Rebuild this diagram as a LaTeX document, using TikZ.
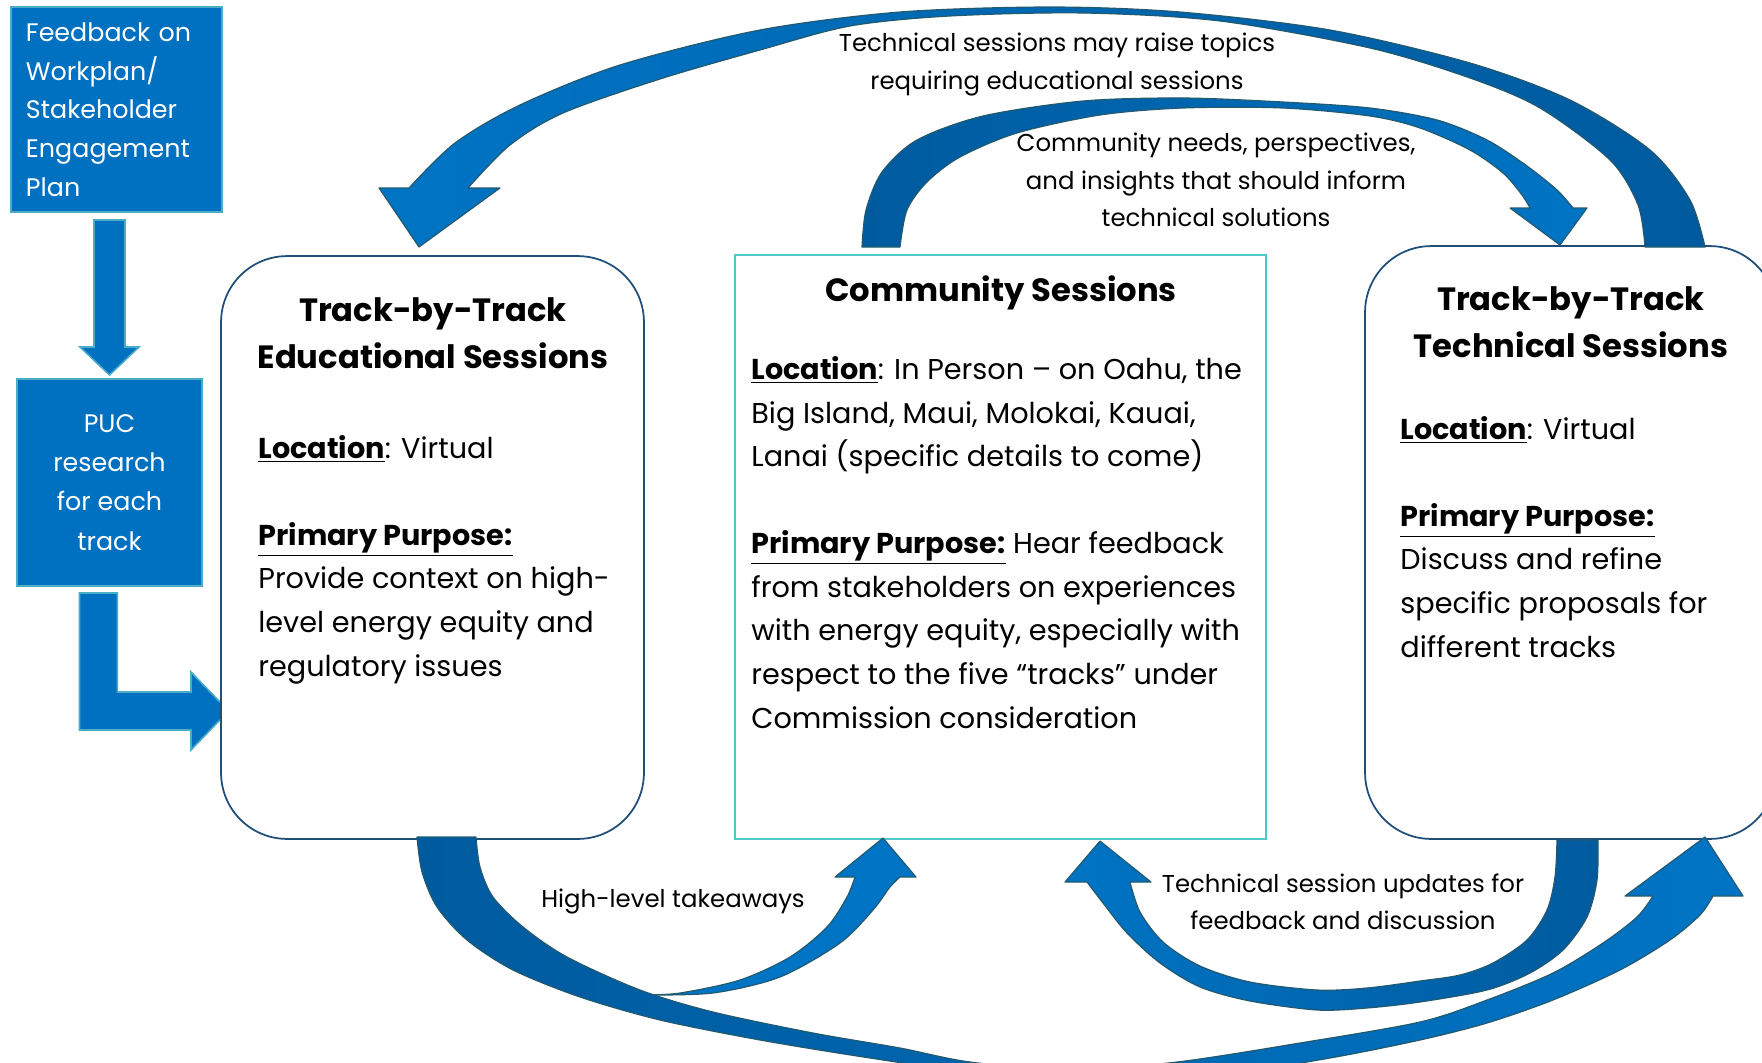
\documentclass[tikz,border=0pt]{standalone}
\usepackage{fontspec}
\setmainfont{Poppins}

\definecolor{boxblue}{RGB}{0,112,192}
\definecolor{boxedge}{RGB}{75,172,198}
\definecolor{sessedge}{RGB}{31,78,121}
\definecolor{commedge}{RGB}{80,200,200}
\definecolor{arrowdark}{RGB}{0,90,158}
\definecolor{arrowlight}{RGB}{0,116,196}
\definecolor{arrowedge}{RGB}{35,90,110}

\newcommand{\hd}[1]{\underline{\textbf{#1}}}

\begin{document}
\begin{tikzpicture}[x=0.018cm, y=-0.018cm,
    bluebox/.style={draw=boxedge, fill=boxblue, line width=0.8pt, inner sep=0pt, text=white},
    sessbox/.style={draw=sessedge, fill=white, line width=0.9pt, rounded corners=1.19cm, inner sep=0pt},
    commbox/.style={draw=commedge, fill=white, line width=0.9pt, inner sep=0pt},
    titletext/.style={align=center, font=\fontsize{16.5}{24.3}\selectfont\bfseries, inner sep=0pt, anchor=north},
    bodytext/.style={align=left, font=\fontsize{14.7}{22.4}\selectfont, inner sep=0pt, anchor=north west},
    labeltext/.style={align=center, font=\fontsize{12.5}{19}\selectfont, inner sep=0pt, anchor=north},
    blockarrow/.style={draw=boxedge, fill=boxblue, line width=0.8pt, line join=miter},
    curvearrow/.style={draw=arrowedge, line width=0.6pt, line join=round}
  ]
  \useasboundingbox (0,0) rectangle (1762,1063);
  \clip (0,0) rectangle (1762,1063);

  % left column: inputs
  \node[bluebox, minimum width=3.798cm, minimum height=3.69cm, text width=3.26cm, align=left,
    font=\fontsize{13}{19.8}\selectfont] (feedback) at (116.5,109.5)
    {Feedback on\\ Workplan/\\ Stakeholder\\ Engagement\\ Plan};
  \node[bluebox, minimum width=3.33cm, minimum height=3.726cm, align=center,
    font=\fontsize{13}{20.1}\selectfont] (puc) at (109.5,482.5)
    {PUC\\ research\\ for each\\ track};

  \draw[blockarrow] (94,220) -- (125,220) -- (125,347) -- (139,347) -- (109.5,375)
    -- (80,347) -- (94,347) -- cycle;
  \draw[blockarrow] (79.5,593) -- (117.4,593) -- (117.4,692) -- (191,692) -- (191,672)
    -- (228.6,711) -- (191,750) -- (191,730) -- (79.5,730) -- cycle;

  % the three session boxes
  \node[sessbox, minimum width=7.614cm, minimum height=10.494cm] (edu) at (432.5,547.5) {};
  \node[commbox, minimum width=9.558cm, minimum height=10.512cm] (comm) at (1000.5,547) {};
  \node[sessbox, minimum width=7.398cm, minimum height=10.674cm] (tech) at (1570.5,542.5) {};

  \node[titletext] (edutitle) at (433,297) {Track-by-Track\\ Educational Sessions};
  \node[bodytext] (edubody) at (258,435) {\hd{Location}: Virtual\\[22pt]
    \hd{Primary Purpose:}\\
    Provide context on high-\\
    level energy equity and\\
    regulatory issues};

  \node[titletext] (commtitle) at (1001,275) {Community Sessions};
  \node[bodytext] (commbody) at (751,356) {\hd{Location}: In Person – on Oahu, the\\
    Big Island, Maui, Molokai, Kauai,\\
    Lanai (specific details to come)\\[22pt]
    \hd{Primary Purpose:} Hear feedback\\
    from stakeholders on experiences\\
    with energy equity, especially with\\
    respect to the five “tracks” under\\
    Commission consideration};

  \node[titletext] (techtitle) at (1571,286) {Track-by-Track\\ Technical Sessions};
  \node[bodytext] (techbody) at (1400,416) {\hd{Location}: Virtual\\[22pt]
    \hd{Primary Purpose:}\\
    Discuss and refine\\
    specific proposals for\\
    different tracks};

  % curved arrows over the top
  \draw[curvearrow, left color=arrowlight, right color=arrowdark]
    plot[smooth, tension=0.5] coordinates {(1705,247) (1690,200) (1650,150) (1570,100) (1470,63)
      (1330,30) (1180,12) (1050,7) (900,12) (760,30) (620,65) (520,105) (455,143) (409,188)}
    -- (379,188) -- (419,247) -- (500,188) -- (468,188)
    -- plot[smooth, tension=0.5] coordinates {(468,188) (510,145) (563,113) (660,79) (760,50)
      (850,26) (950,16) (1083,13) (1220,21) (1370,48) (1470,78) (1540,108) (1610,160)
      (1638,205) (1645,247)}
    -- cycle;
  \draw[curvearrow, left color=arrowdark, right color=arrowlight]
    plot[smooth, tension=0.5] coordinates {(862,247) (866,210) (882,172) (917,140) (983,116)
      (1083,101) (1183,98) (1283,102) (1370,108) (1437,120) (1487,140) (1527,166) (1557,190)
      (1573,208)}
    -- (1587,208) -- (1560,245) -- (1510,208) -- (1530,208)
    -- plot[smooth, tension=0.5] coordinates {(1530,208) (1522,195) (1503,173) (1470,150)
      (1420,128) (1370,116) (1283,108) (1183,108) (1100,115) (1017,133) (960,157) (927,182)
      (907,210) (900,247)}
    -- cycle;

  % curved arrows underneath
  \draw[curvearrow, fill=arrowlight]
    plot[smooth, tension=0.5] coordinates {(643,995) (713,993) (780,977) (840,943) (873,910)
      (890,887) (900,877)}
    -- (916,877) -- (883,838) -- (835,877) -- (855,877)
    -- plot[smooth, tension=0.5] coordinates {(855,877) (847,897) (827,927) (790,957) (740,980)
      (680,993) (643,995)}
    -- cycle;
  \draw[curvearrow, left color=arrowdark, right color=arrowlight]
    plot[smooth, tension=0.5] coordinates {(417,837) (422,872) (437,907) (467,940) (513,970)
      (580,997) (660,1020) (760,1040) (870,1058) (990,1075) (1100,1082) (1220,1075) (1330,1058)
      (1420,1040) (1487,1023) (1553,1000) (1620,970) (1670,940) (1700,915) (1713,896)}
    -- (1743,896) -- (1705,837) -- (1625,896) -- (1653,896)
    -- plot[smooth, tension=0.5] coordinates {(1653,896) (1637,917) (1603,943) (1553,973)
      (1487,1000) (1420,1022) (1300,1043) (1177,1062) (1070,1070) (970,1062) (900,1048)
      (813,1033) (713,1012) (640,990) (567,957) (523,927) (493,897) (480,867) (476,837)}
    -- cycle;
  \draw[curvearrow, left color=arrowlight, right color=arrowdark]
    plot[smooth, tension=0.5] coordinates {(1598,840) (1597,880) (1587,917) (1563,950)
      (1530,973) (1487,990) (1420,1002) (1367,1008) (1317,1010) (1250,1001) (1200,987)
      (1160,963) (1127,933) (1103,903) (1087,882)}
    -- (1065,882) -- (1100,841) -- (1151,882) -- (1130,882)
    -- plot[smooth, tension=0.5] coordinates {(1130,882) (1140,912) (1163,942) (1200,966)
      (1250,982) (1317,990) (1367,988) (1420,981) (1460,975) (1493,963) (1527,940) (1547,910)
      (1555,877) (1557,840)}
    -- cycle;

  % arrow captions
  \node[labeltext] (raiselbl) at (1057,33) {Technical sessions may raise topics\\ requiring educational sessions};
  \node[labeltext] (needslbl) at (1216,133) {Community needs, perspectives,\\ and insights that should inform\\ technical solutions};
  \node[labeltext] (takelbl) at (673,889) {High-level takeaways};
  \node[labeltext] (updatelbl) at (1343,873) {Technical session updates for\\ feedback and discussion};
\end{tikzpicture}
\end{document}
